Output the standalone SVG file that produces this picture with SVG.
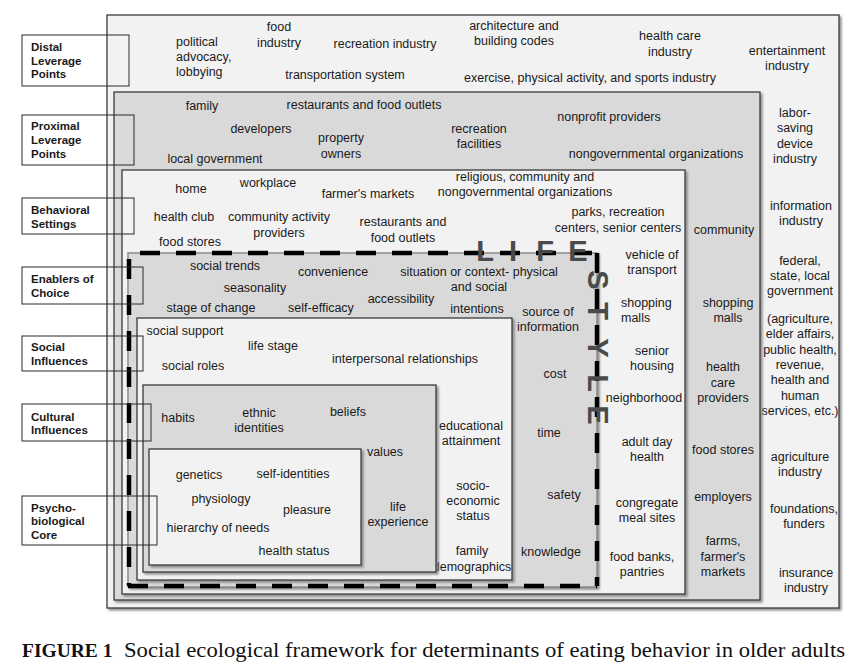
<svg xmlns="http://www.w3.org/2000/svg" width="854" height="665" viewBox="0 0 854 665">
<defs>
<filter id="sh" x="-5%" y="-5%" width="110%" height="110%">
<feDropShadow dx="2" dy="2" stdDeviation="1.2" flood-color="#777" flood-opacity="0.8"/>
</filter>
<style>
.t{font-family:"Liberation Sans",Arial,sans-serif;font-size:12.5px;fill:#1a1a1a;text-anchor:middle}
.tl{font-family:"Liberation Sans",Arial,sans-serif;font-size:12.5px;fill:#1a1a1a;text-anchor:start}
.lb{font-family:"Liberation Sans",Arial,sans-serif;font-size:11.5px;font-weight:bold;fill:#1a1a1a}
.lt{fill:#f2f2f2;stroke:#3a3a3a;stroke-width:1.3}
.dk{fill:#d9d9d9;stroke:#3a3a3a;stroke-width:1.3}
.lbox{fill:none;stroke:#2a2a2a;stroke-width:1}
.dash{stroke:#000;stroke-width:4.5;stroke-dasharray:20 16;fill:none}
.big{font-family:"Liberation Sans",Arial,sans-serif;font-size:29px;font-weight:bold;fill:#4a4a4a;text-anchor:middle}
.cap{font-family:"Liberation Serif","Times New Roman",serif;fill:#111}
</style>
</defs>
<rect width="854" height="665" fill="#fff"/>

<g id="distal">
<rect class="lt" x="107" y="15" width="732" height="593" filter="url(#sh)"/>
<text class="tl" x="176"><tspan x="176" y="46">political</tspan><tspan x="176" y="61">advocacy,</tspan><tspan x="176" y="76">lobbying</tspan></text>
<text class="t"><tspan x="279" y="31">food</tspan><tspan x="279" y="47">industry</tspan></text>
<text class="t" x="385" y="48">recreation industry</text>
<text class="t" x="345" y="79">transportation system</text>
<text class="t"><tspan x="514" y="30">architecture and</tspan><tspan x="514" y="45">building codes</tspan></text>
<text class="t" x="590" y="82">exercise, physical activity, and sports industry</text>
<text class="t"><tspan x="670" y="40">health care</tspan><tspan x="670" y="56">industry</tspan></text>
<text class="t"><tspan x="787" y="55">entertainment</tspan><tspan x="787" y="70">industry</tspan></text>
<text class="t"><tspan x="795" y="117">labor-</tspan><tspan x="795" y="132">saving</tspan><tspan x="795" y="148">device</tspan><tspan x="795" y="163">industry</tspan></text>
<text class="t"><tspan x="801" y="210">information</tspan><tspan x="801" y="225">industry</tspan></text>
<text class="t"><tspan x="800" y="265">federal,</tspan><tspan x="800" y="280">state, local</tspan><tspan x="800" y="295">government</tspan></text>
<text class="t"><tspan x="800" y="323">(agriculture,</tspan><tspan x="800" y="338">elder affairs,</tspan><tspan x="800" y="354">public health,</tspan><tspan x="800" y="369">revenue,</tspan><tspan x="800" y="384">health and</tspan><tspan x="800" y="400">human</tspan><tspan x="800" y="415">services, etc.)</tspan></text>
<text class="t"><tspan x="800" y="461">agriculture</tspan><tspan x="800" y="476">industry</tspan></text>
<text class="t"><tspan x="804" y="513">foundations,</tspan><tspan x="804" y="528">funders</tspan></text>
<text class="t"><tspan x="806" y="577">insurance</tspan><tspan x="806" y="592">industry</tspan></text>
</g>

<g id="proximal">
<rect class="dk" x="114" y="92" width="646" height="508" filter="url(#sh)"/>
<text class="t" x="202" y="110">family</text>
<text class="t" x="364" y="109">restaurants and food outlets</text>
<text class="t" x="261" y="133">developers</text>
<text class="t" x="215" y="163">local government</text>
<text class="t"><tspan x="341" y="142">property</tspan><tspan x="341" y="158">owners</tspan></text>
<text class="t"><tspan x="479" y="133">recreation</tspan><tspan x="479" y="148">facilities</tspan></text>
<text class="t" x="609" y="121">nonprofit providers</text>
<text class="t" x="656" y="158">nongovernmental organizations</text>
<text class="t" x="724" y="234">community</text>
<text class="t"><tspan x="728" y="307">shopping</tspan><tspan x="728" y="322">malls</tspan></text>
<text class="t"><tspan x="723" y="371">health</tspan><tspan x="723" y="387">care</tspan><tspan x="723" y="402">providers</tspan></text>
<text class="t" x="723" y="454">food stores</text>
<text class="t" x="723" y="501">employers</text>
<text class="t"><tspan x="723" y="545">farms,</tspan><tspan x="723" y="561">farmer's</tspan><tspan x="723" y="576">markets</tspan></text>
</g>

<g id="behavioral">
<rect class="lt" x="122" y="170" width="563" height="424" filter="url(#sh)"/>
<text class="t" x="191" y="193">home</text>
<text class="t" x="268" y="187">workplace</text>
<text class="t" x="368" y="198">farmer's markets</text>
<text class="t"><tspan x="525" y="181">religious, community and</tspan><tspan x="525" y="196">nongovernmental organizations</tspan></text>
<text class="t" x="184" y="221">health club</text>
<text class="t"><tspan x="279" y="221">community activity</tspan><tspan x="279" y="237">providers</tspan></text>
<text class="t"><tspan x="403" y="226">restaurants and</tspan><tspan x="403" y="242">food outlets</tspan></text>
<text class="t"><tspan x="618" y="216">parks, recreation</tspan><tspan x="618" y="232">centers, senior centers</tspan></text>
<text class="t" x="190" y="246">food stores</text>
<text class="t"><tspan x="652" y="259">vehicle of</tspan><tspan x="652" y="274">transport</tspan></text>
<text class="tl"><tspan x="621" y="307">shopping</tspan><tspan x="621" y="322">malls</tspan></text>
<text class="t"><tspan x="652" y="355">senior</tspan><tspan x="652" y="370">housing</tspan></text>
<text class="t" x="644" y="402">neighborhood</text>
<text class="t"><tspan x="647" y="446">adult day</tspan><tspan x="647" y="461">health</tspan></text>
<text class="t"><tspan x="647" y="507">congregate</tspan><tspan x="647" y="522">meal sites</tspan></text>
<text class="t"><tspan x="642" y="561">food banks,</tspan><tspan x="642" y="576">pantries</tspan></text>
</g>

<g id="enablers">
<rect x="128" y="253" width="469" height="334" fill="#d9d9d9" stroke="#8a8a8a" stroke-width="1.5" filter="url(#sh)"/>
<text class="t" x="225" y="270">social trends</text>
<text class="t" x="255" y="292">seasonality</text>
<text class="t" x="211" y="312">stage of change</text>
<text class="t" x="333" y="276">convenience</text>
<text class="t" x="321" y="312">self-efficacy</text>
<text class="t" x="401" y="303">accessibility</text>
<text class="t"><tspan x="479" y="276">situation or context- physical</tspan><tspan x="479" y="291">and social</tspan></text>
<text class="t" x="477" y="313">intentions</text>
<text class="t"><tspan x="548" y="316">source of</tspan><tspan x="548" y="331">information</tspan></text>
<text class="t" x="555" y="378">cost</text>
<text class="t" x="549" y="437">time</text>
<text class="t" x="564" y="499">safety</text>
<text class="t" x="551" y="556">knowledge</text>
</g>

<g id="social">
<rect class="lt" x="137" y="318" width="375" height="262" filter="url(#sh)"/>
<text class="t" x="185" y="335">social support</text>
<text class="t" x="273" y="350">life stage</text>
<text class="t" x="193" y="370">social roles</text>
<text class="t" x="405" y="363">interpersonal relationships</text>
<text class="t"><tspan x="471" y="430">educational</tspan><tspan x="471" y="445">attainment</tspan></text>
<text class="t"><tspan x="473" y="490">socio-</tspan><tspan x="473" y="505">economic</tspan><tspan x="473" y="520">status</tspan></text>
<text class="t"><tspan x="472" y="555">family</tspan><tspan x="472" y="571">demographics</tspan></text>
</g>

<g id="cultural">
<rect class="dk" x="143" y="385" width="293" height="187" filter="url(#sh)"/>
<text class="t" x="178" y="422">habits</text>
<text class="t"><tspan x="259" y="417">ethnic</tspan><tspan x="259" y="432">identities</tspan></text>
<text class="t" x="348" y="416">beliefs</text>
<text class="t" x="385" y="456">values</text>
<text class="t"><tspan x="398" y="511">life</tspan><tspan x="398" y="526">experience</tspan></text>
</g>

<g id="psychobiological">
<rect class="lt" x="149" y="449" width="212" height="116" filter="url(#sh)"/>
<text class="t" x="199" y="479">genetics</text>
<text class="t" x="293" y="478">self-identities</text>
<text class="t" x="221" y="503">physiology</text>
<text class="t" x="307" y="514">pleasure</text>
<text class="t" x="218" y="532">hierarchy of needs</text>
<text class="t" x="294" y="555">health status</text>
</g>

<g id="lifestyle">
<line class="dash" x1="140" y1="253" x2="597" y2="253"/>
<line class="dash" x1="129" y1="259" x2="129" y2="586"/>
<line class="dash" x1="128" y1="586" x2="597" y2="586"/>
<line class="dash" x1="597" y1="253" x2="597" y2="586"/>
<text class="big" x="485" y="261">L</text>
<text class="big" x="513" y="261">I</text>
<text class="big" x="545" y="261">F</text>
<text class="big" x="578" y="261">E</text>
<text class="big" transform="translate(598,280) rotate(90)" y="10">S</text>
<text class="big" transform="translate(598,311) rotate(90)" y="10">T</text>
<text class="big" transform="translate(598,348) rotate(90)" y="10">Y</text>
<text class="big" transform="translate(598,383) rotate(90)" y="10">L</text>
<text class="big" transform="translate(598,415) rotate(90)" y="10">E</text>
</g>

<g id="labels">
<g id="lbl-distal"><rect class="lbox" x="22" y="35" width="107" height="51"/><text class="lb"><tspan x="31" y="51">Distal</tspan><tspan x="31" y="65">Leverage</tspan><tspan x="31" y="78">Points</tspan></text></g>
<g id="lbl-proximal"><rect class="lbox" x="22" y="115" width="112" height="50"/><text class="lb"><tspan x="31" y="130">Proximal</tspan><tspan x="31" y="144">Leverage</tspan><tspan x="31" y="158">Points</tspan></text></g>
<g id="lbl-behavioral"><rect class="lbox" x="22" y="198" width="112" height="36"/><text class="lb"><tspan x="31" y="214">Behavioral</tspan><tspan x="31" y="228">Settings</tspan></text></g>
<g id="lbl-enablers"><rect class="lbox" x="22" y="267" width="121" height="37"/><text class="lb"><tspan x="31" y="283">Enablers of</tspan><tspan x="31" y="297">Choice</tspan></text></g>
<g id="lbl-social"><rect class="lbox" x="22" y="336" width="121" height="35"/><text class="lb"><tspan x="31" y="351">Social</tspan><tspan x="31" y="365">Influences</tspan></text></g>
<g id="lbl-cultural"><rect class="lbox" x="22" y="404" width="129" height="37"/><text class="lb"><tspan x="31" y="421">Cultural</tspan><tspan x="31" y="434">Influences</tspan></text></g>
<g id="lbl-psycho"><rect class="lbox" x="22" y="496" width="135" height="49"/><text class="lb"><tspan x="31" y="512">Psycho-</tspan><tspan x="31" y="525">biological</tspan><tspan x="31" y="539">Core</tspan></text></g>
</g>

<g id="caption">
<text class="cap" x="22" y="657" font-size="19.5" font-weight="bold">FIGURE 1</text>
<text class="cap" x="124" y="657" font-size="20.5" textLength="721" lengthAdjust="spacingAndGlyphs">Social ecological framework for determinants of eating behavior in older adults</text>
</g>
</svg>
